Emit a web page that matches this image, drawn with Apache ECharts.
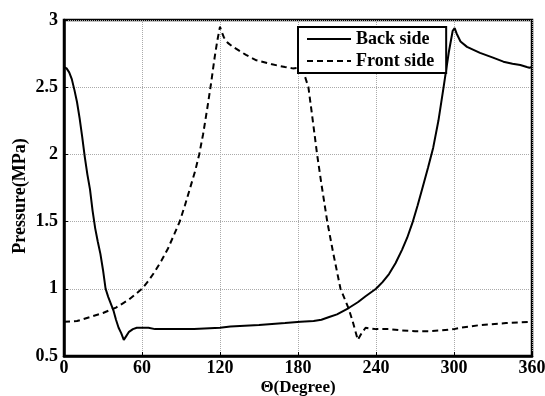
<!DOCTYPE html>
<html>
<head>
<meta charset="utf-8">
<script src="https://cdn.jsdelivr.net/npm/echarts@6/dist/echarts.min.js"></script>
<style>html,body{margin:0;padding:0;background:#fff;}#c{width:545px;height:396px;}</style>
</head>
<body>
<div id="c"></div>
<script>
var xTicks = [0, 60, 120, 180, 240, 300, 360];
var yTicks = [0.5, 1, 1.5, 2, 2.5, 3];
var seriesNames = ['Back side', 'Front side'];

var backDeg = [0,2,4,6,8,10,12,14,16,18,20,22,24,26,28,30,32,34,36,38,40,42,44,46,48,50,53,56,65,70,100,120,128,150,170,182,192,198,204,210,219,226,232,240,245,250,255,260,264,268,272,276,280,284,288,292,296,299,300.5,302,305,310,320,330,338,345,351,356,358,360];
var backVal = [2.65,2.64,2.61,2.56,2.48,2.39,2.27,2.13,1.98,1.85,1.74,1.58,1.45,1.35,1.26,1.14,1.0,0.94,0.89,0.84,0.77,0.71,0.67,0.62,0.65,0.68,0.70,0.71,0.71,0.70,0.70,0.71,0.72,0.73,0.745,0.755,0.76,0.77,0.79,0.81,0.857,0.90,0.945,1.0,1.05,1.11,1.19,1.29,1.38,1.49,1.62,1.76,1.90,2.05,2.25,2.5,2.76,2.92,2.94,2.90,2.84,2.80,2.755,2.72,2.69,2.675,2.665,2.65,2.645,2.65];

var frontDeg = [0,10,20,30,40,45,50,55,60,65,70,75,80,85,89,93,97,101,104,107,110,113,116,118,120,121,123,126,130,135,140,148,160,170,176,180,183,185,188,191,194.7,198,202.5,207,212.7,218.8,222,226,229,232,240,250,260,270,280,290,300,305,320,340,360];
var frontVal = [0.755,0.76,0.79,0.82,0.86,0.89,0.92,0.96,1.0,1.06,1.13,1.21,1.30,1.41,1.5,1.62,1.75,1.88,2.0,2.15,2.33,2.52,2.73,2.85,2.95,2.92,2.87,2.83,2.80,2.77,2.74,2.70,2.67,2.65,2.64,2.645,2.63,2.59,2.5,2.28,2.0,1.78,1.5,1.27,1.0,0.857,0.76,0.62,0.67,0.71,0.70,0.70,0.69,0.685,0.685,0.69,0.70,0.71,0.73,0.745,0.755];

function pairs(xs, ys) { return xs.map(function (x, i) { return [x, ys[i]]; }); }

var FONT = '"Liberation Serif", "Times New Roman", serif';
var chart = echarts.init(document.getElementById('c'), null, {renderer: 'canvas'});
chart.setOption({
  animation: false,
  backgroundColor: '#fff',
  grid: {left: 64, right: 13, top: 20, bottom: 40, containLabel: false, outerBoundsMode: 'none',
    show: true, borderColor: '#000', borderWidth: 2.5, backgroundColor: 'transparent'},
  legend: {
    data: seriesNames,
    orient: 'vertical',
    left: 298, top: 27,
    backgroundColor: '#fff',
    borderColor: '#000', borderWidth: 2,
    padding: [3, 12, 3, 8],
    itemGap: 4,
    itemWidth: 44, itemHeight: 14,
    itemStyle: {opacity: 0},
    textStyle: {fontFamily: FONT, fontWeight: 'bold', fontSize: 18, color: '#000'}
  },
  xAxis: {
    type: 'value', min: 0, max: 360, interval: 60,
    name: 'Θ(Degree)', nameLocation: 'middle', nameGap: 23, nameMoveOverlap: false,
    nameTextStyle: {fontFamily: FONT, fontWeight: 'bold', fontSize: 17, color: '#000'},
    axisLine: {show: true, lineStyle: {color: '#000', width: 2.5}},
    axisTick: {show: true, inside: true, length: 4, lineStyle: {color: '#000'}},
    axisLabel: {fontFamily: FONT, fontWeight: 'bold', fontSize: 18, color: '#000', margin: 3,
      formatter: function (v) { return xTicks.indexOf(v) >= 0 ? String(v) : ''; }},
    splitLine: {show: true, lineStyle: {color: '#aaa', type: 'dotted', width: 1}}
  },
  yAxis: {
    type: 'value', min: 0.5, max: 3, interval: 0.5,
    name: 'Pressure(MPa)', nameLocation: 'middle', nameGap: 35, nameMoveOverlap: false,
    nameTextStyle: {fontFamily: FONT, fontWeight: 'bold', fontSize: 18, color: '#000', padding: [0, 16, 0, 0]},
    axisLine: {show: true, lineStyle: {color: '#000', width: 2.5}},
    axisTick: {show: true, inside: true, length: 4, lineStyle: {color: '#000'}},
    axisLabel: {fontFamily: FONT, fontWeight: 'bold', fontSize: 18, color: '#000', margin: 6,
      formatter: function (v) { return yTicks.indexOf(v) >= 0 ? String(v) : ''; }},
    splitLine: {show: true, lineStyle: {color: '#aaa', type: 'dotted', width: 1}}
  },
  series: [
    {name: seriesNames[0], type: 'line', data: pairs(backDeg, backVal), symbol: 'none', smooth: false,
     lineStyle: {color: '#000', width: 2, type: 'solid'}, itemStyle: {color: '#000'}},
    {name: seriesNames[1], type: 'line', data: pairs(frontDeg, frontVal), symbol: 'none', smooth: false,
     lineStyle: {color: '#000', width: 2, type: [6, 4]}, itemStyle: {color: '#000'}}
  ]
});
</script>
</body>
</html>
